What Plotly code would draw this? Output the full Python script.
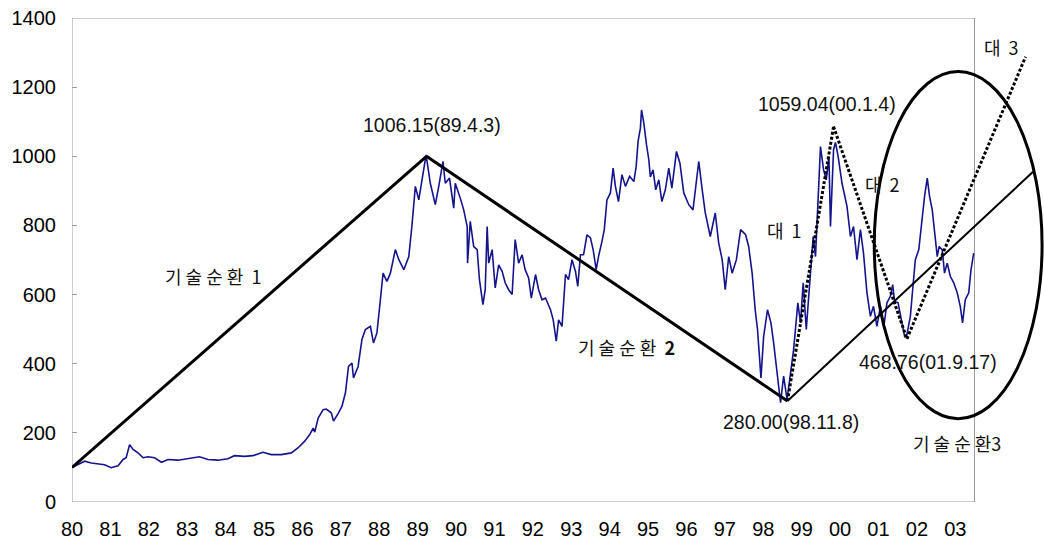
import plotly.graph_objects as go

# ---- data ----
years = [1980.00, 1980.33, 1980.50, 1980.85, 1981.02, 1981.20, 1981.33, 1981.41, 1981.50, 1981.59,
         1981.72, 1981.85, 1981.98, 1982.15, 1982.33, 1982.50, 1982.76, 1983.02, 1983.32, 1983.54,
         1983.80, 1984.06, 1984.23, 1984.49, 1984.71, 1984.97, 1985.19, 1985.45, 1985.71, 1985.89,
         1986.06, 1986.19, 1986.28, 1986.32, 1986.41, 1986.54, 1986.62, 1986.75, 1986.81, 1986.94,
         1987.03, 1987.12, 1987.20, 1987.29, 1987.33, 1987.45, 1987.55, 1987.64, 1987.77, 1987.85,
         1987.94, 1988.03, 1988.10, 1988.20, 1988.29, 1988.42, 1988.51, 1988.64, 1988.77, 1988.85,
         1988.94, 1989.03, 1989.11, 1989.22, 1989.33, 1989.46, 1989.55, 1989.66, 1989.72, 1989.83,
         1989.94, 1989.98, 1990.11, 1990.20, 1990.29, 1990.30, 1990.37, 1990.46, 1990.55, 1990.61,
         1990.70, 1990.76, 1990.81, 1990.85, 1990.94, 1991.02, 1991.11, 1991.20, 1991.28, 1991.37,
         1991.46, 1991.54, 1991.63, 1991.72, 1991.80, 1991.89, 1991.96, 1992.07, 1992.15, 1992.24,
         1992.33, 1992.46, 1992.53, 1992.61, 1992.67, 1992.76, 1992.85, 1992.93, 1993.02, 1993.11,
         1993.17, 1993.24, 1993.32, 1993.41, 1993.50, 1993.57, 1993.65, 1993.71, 1993.80, 1993.86,
         1993.93, 1994.02, 1994.09, 1994.15, 1994.23, 1994.32, 1994.41, 1994.52, 1994.63, 1994.69,
         1994.74, 1994.80, 1994.83, 1994.89, 1994.96, 1995.02, 1995.06, 1995.13, 1995.20, 1995.28,
         1995.36, 1995.45, 1995.54, 1995.62, 1995.74, 1995.83, 1995.93, 1996.06, 1996.17, 1996.32,
         1996.41, 1996.49, 1996.62, 1996.75, 1996.84, 1996.93, 1997.01, 1997.10, 1997.19, 1997.30,
         1997.41, 1997.54, 1997.62, 1997.71, 1997.79, 1997.85, 1997.94, 1998.01, 1998.11, 1998.20,
         1998.27, 1998.36, 1998.45, 1998.53, 1998.62, 1998.71, 1998.79, 1998.90, 1998.97, 1999.04,
         1999.12, 1999.21, 1999.30, 1999.36, 1999.40, 1999.49, 1999.57, 1999.64, 1999.71, 1999.75,
         1999.83, 1999.88, 1999.95, 2000.05, 2000.18, 2000.27, 2000.35, 2000.44, 2000.53, 2000.61,
         2000.70, 2000.79, 2000.87, 2000.96, 2001.05, 2001.14, 2001.22, 2001.31, 2001.37, 2001.42,
         2001.51, 2001.60, 2001.68, 2001.74, 2001.83, 2001.89, 2001.96, 2002.05, 2002.14, 2002.20,
         2002.27, 2002.33, 2002.40, 2002.46, 2002.53, 2002.58, 2002.66, 2002.72, 2002.79, 2002.87,
         2002.96, 2003.05, 2003.13, 2003.19, 2003.26, 2003.35, 2003.41, 2003.48]
kospi = [100, 118, 113, 108, 99, 105, 123, 128, 166, 152,
         142, 128, 131, 128, 115, 123, 121, 125, 131, 123,
         121, 125, 134, 132, 134, 144, 137, 137, 142, 157,
         176, 195, 214, 202, 243, 267, 269, 258, 234, 258,
         277, 316, 392, 402, 359, 392, 470, 499, 508, 460,
         489, 585, 662, 638, 662, 730, 701, 672, 710, 797,
         913, 874, 932, 1004, 922, 860, 913, 985, 922, 937,
         850, 922, 879, 845, 797, 691, 812, 739, 730, 643,
         571, 614, 797, 691, 730, 619, 686, 667, 634, 614,
         600, 759, 691, 715, 672, 648, 590, 658, 614, 585,
         590, 556, 527, 465, 527, 508, 658, 643, 701, 667,
         624, 715, 715, 773, 764, 730, 672, 710, 754, 788,
         874, 894, 966, 913, 869, 947, 913, 942, 927, 970,
         1043, 1081, 1134, 1096, 1033, 990, 940, 961, 903, 932,
         869, 903, 966, 908, 1014, 980, 894, 860, 845, 985,
         903, 836, 768, 836, 749, 701, 614, 710, 662, 701,
         788, 773, 739, 662, 556, 499, 359, 479, 556, 518,
         460, 364, 287, 364, 296, 373, 441, 576, 518, 634,
         499, 634, 768, 710, 816, 1028, 961, 932, 999, 797,
         1019, 1040, 999, 922, 855, 768, 797, 701, 788, 720,
         605, 537, 566, 508, 566, 508, 576, 595, 629, 580,
         576, 527, 479, 484, 537, 614, 701, 730, 826, 884,
         937, 884, 845, 788, 710, 739, 730, 662, 691, 653,
         634, 605, 566, 518, 585, 605, 672, 720]

tick_years = list(range(1980, 2004))
tick_labels = ["80", "81", "82", "83", "84", "85", "86", "87", "88", "89", "90", "91",
               "92", "93", "94", "95", "96", "97", "98", "99", "00", "01", "02", "03"]

# trend lines (pivot points)
cycle_x = [1980.00, 1989.23, 1998.63]
cycle_y = [100, 1000, 292]
cycle3_end = (2005.06, 959)
dotted_x = [1998.63, 1999.83, 2001.74, 2004.83]
dotted_y = [292, 1086, 472, 1288]
ellipse_box = (2000.89, 241, 2005.26, 1245)
frame_box = (1980.0, 0, 2003.5, 1400)

labels = [
    ("1006.15(89.4.3)", 1989.37, 1091),
    ("기 술 순 환  1", 1983.68, 655),
    ("기 술 순 환  <b>2</b>", 1994.45, 447),
    ("대  1", 1998.55, 788),
    ("1059.04(00.1.4)", 1999.66, 1152),
    ("대  2", 2001.11, 920),
    ("대  3", 2004.20, 1317),
    ("468.76(01.9.17)", 2002.29, 404),
    ("280.00(98.11.8)", 1998.72, 231),
    ("기 술 순 환3", 2003.04, 172),
]

NUMFONT = "Arial, Liberation Sans, sans-serif"
KRFONT = "Noto Sans CJK KR, sans-serif"

fig = go.Figure()
fig.add_trace(go.Scatter(x=years, y=kospi, mode="lines",
                         line=dict(color="#14148c", width=1.6), hoverinfo="skip"))

shapes = []
# plot frame
shapes.append(dict(type="rect", xref="x", yref="y", x0=frame_box[0], y0=frame_box[1],
                   x1=frame_box[2], y1=frame_box[3], line=dict(color="#9a9a9a", width=1),
                   layer="below"))
# cycle 1 and 2 (thick)
for i in range(2):
    shapes.append(dict(type="line", xref="x", yref="y", x0=cycle_x[i], y0=cycle_y[i],
                       x1=cycle_x[i + 1], y1=cycle_y[i + 1], line=dict(color="black", width=3)))
# cycle 3 (thinner)
shapes.append(dict(type="line", xref="x", yref="y", x0=cycle_x[2], y0=cycle_y[2],
                   x1=cycle3_end[0], y1=cycle3_end[1], line=dict(color="black", width=2)))
# dotted waves
for i in range(3):
    shapes.append(dict(type="line", xref="x", yref="y", x0=dotted_x[i], y0=dotted_y[i],
                       x1=dotted_x[i + 1], y1=dotted_y[i + 1],
                       line=dict(color="black", width=3, dash="3px,2px")))
# ellipse
shapes.append(dict(type="circle", xref="x", yref="y", x0=ellipse_box[0], y0=ellipse_box[1],
                   x1=ellipse_box[2], y1=ellipse_box[3], line=dict(color="black", width=3)))

annotations = []
for text, x, y in labels:
    is_kr = any("\uac00" <= ch <= "\ud7a3" for ch in text)
    annotations.append(dict(text=text, x=x, y=y, xref="x", yref="y", showarrow=False,
                            xanchor="center", yanchor="middle",
                            font=dict(family=KRFONT if is_kr else NUMFONT,
                                      size=18 if is_kr else 19.5, color="#111")))

fig.update_layout(
    width=1044, height=542,
    margin=dict(l=72, r=0, t=18, b=40),
    paper_bgcolor="white", plot_bgcolor="white",
    showlegend=False,
    shapes=shapes, annotations=annotations,
    xaxis=dict(range=[1980, 2005.31], tickvals=tick_years, ticktext=tick_labels,
               showgrid=False, zeroline=False, showline=False, ticks="",
               ticklabelstandoff=13,
               tickfont=dict(family=NUMFONT, size=20, color="black")),
    yaxis=dict(range=[0, 1400], tickvals=list(range(0, 1401, 200)),
               showgrid=False, zeroline=False, showline=False,
               ticks="inside", ticklen=5, tickcolor="#9a9a9a",
               ticklabelstandoff=15,
               tickfont=dict(family=NUMFONT, size=20, color="black")),
)

fig.write_html("out.html", config={"displayModeBar": False},
               post_script="document.body.style.margin='0';")
